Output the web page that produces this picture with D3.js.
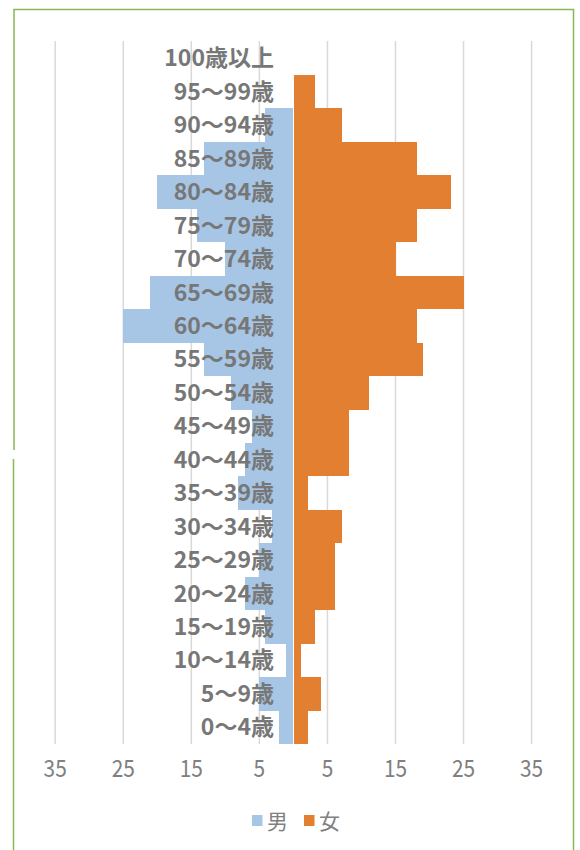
<!DOCTYPE html>
<html>
<head>
<meta charset="utf-8">
<script src="https://cdn.jsdelivr.net/npm/d3@7"></script>
<style>
  body { margin: 0; background: #fff; }
  svg { display: block; }
</style>
</head>
<body>
<div id="chart"></div>
<script>
const ageGroups = ['100歳以上', '95～99歳', '90～94歳', '85～89歳', '80～84歳', '75～79歳',
    '70～74歳', '65～69歳', '60～64歳', '55～59歳', '50～54歳', '45～49歳', '40～44歳',
    '35～39歳', '30～34歳', '25～29歳', '20～24歳', '15～19歳', '10～14歳', '5～9歳', '0～4歳'];
const male   = [0, 0, 4, 13, 20, 14, 10, 21, 25, 13, 9, 6, 7, 8, 3, 5, 7, 4, 1, 5, 2];
const female = [0, 3, 7, 18, 23, 18, 15, 25, 18, 19, 11, 8, 8, 2, 7, 6, 6, 3, 1, 4, 2];
const tickValues = [-35, -25, -15, -5, 5, 15, 25, 35];
const legendItems = [{ name: '男', color: '#a7c5e4' }, { name: '女', color: '#e37f31' }];

const width = 580, height = 850;
const svg = d3.select('#chart').append('svg')
    .attr('width', width)
    .attr('height', height);

// chart frame
const frame = '#8ab75a';
svg.append('path').attr('d', 'M13.5,850 V459').attr('stroke', frame).attr('stroke-width', 1.5).attr('fill', 'none');
svg.append('path').attr('d', 'M14,450 V9.5 H573.5 V850').attr('stroke', frame).attr('stroke-width', 1.5).attr('fill', 'none');
svg.append('text').attr('x', -6).attr('y', 624).attr('fill', '#888')
    .style('font', '20px "Noto Sans CJK JP"').text(')');

const x = d3.scaleLinear().domain([-35, 35]).range([55.2, 531.6]);
const y = d3.scaleBand().domain(ageGroups).range([41.6, 744]).padding(0);

// gridlines
svg.append('g').selectAll('line')
    .data(tickValues)
    .enter()
    .append('line')
    .attr('x1', d => x(d)).attr('x2', d => x(d))
    .attr('y1', 41).attr('y2', 744)
    .attr('stroke', '#d9d9d9')
    .attr('stroke-width', 1.5);

const rows = ageGroups.map((a, i) => ({ age: a, m: male[i], f: female[i] }));

// male bars (left), small white gap at the centre
svg.append('g').attr('shape-rendering', 'crispEdges').selectAll('rect')
    .data(rows)
    .enter()
    .append('rect')
    .attr('x', d => x(-d.m) - 0.7)
    .attr('width', d => Math.max(0, x(0) - x(-d.m)))
    .attr('y', d => y(d.age))
    .attr('height', y.bandwidth())
    .attr('fill', legendItems[0].color);

svg.append('g').attr('shape-rendering', 'crispEdges').selectAll('rect')
    .data(rows)
    .enter()
    .append('rect')
    .attr('x', x(0) + 0.7)
    .attr('width', d => x(d.f) - x(0))
    .attr('y', d => y(d.age))
    .attr('height', y.bandwidth())
    .attr('fill', legendItems[1].color);

// category labels
svg.append('g').selectAll('text')
    .data(ageGroups)
    .enter()
    .append('text')
    .attr('x', 274)
    .attr('y', d => y(d) + y.bandwidth() / 2)
    .attr('dy', '0.35em')
    .attr('text-anchor', 'end')
    .attr('fill', '#777')
    .style('font', 'bold 23px "Noto Sans CJK JP"')
    .text(d => d);

// x-axis tick labels
svg.append('g').selectAll('g')
    .data(tickValues)
    .enter()
    .append('g')
    .attr('transform', d => `translate(${x(d)},777) scale(0.87,1)`)
    .append('text')
    .attr('text-anchor', 'middle')
    .attr('fill', '#808080')
    .style('font', '24px "Noto Sans CJK JP"')
    .text(d => Math.abs(d));

// legend
const legend = svg.append('g').selectAll('g')
    .data(legendItems)
    .enter()
    .append('g')
    .attr('transform', (d, i) => `translate(${252 + i * 52},815)`);

legend.append('rect')
    .attr('width', 10.5).attr('height', 11)
    .attr('fill', d => d.color);

legend.append('text')
    .attr('x', 15).attr('y', 14)
    .attr('fill', '#808080')
    .style('font', '21px "Noto Sans CJK JP"')
    .text(d => d.name);
</script>
</body>
</html>
